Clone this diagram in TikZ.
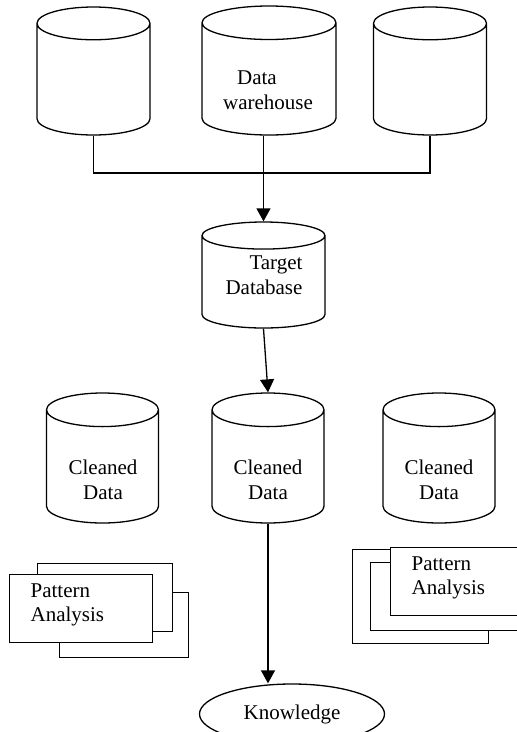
\documentclass[tikz,border=0pt]{standalone}
\usepackage{fontspec}
\setmainfont{Liberation Serif}
\usetikzlibrary{shapes.geometric,arrows.meta}
\tikzset{
  db/.style={cylinder, shape border rotate=90, draw, fill=white, anchor=shape center,
    minimum width=#1, inner xsep=0.5*#1, inner ysep=0pt},
  lbl/.style={font=\fontsize{21}{24.5}\selectfont, inner sep=0pt},
  sheet/.style={draw, fill=white, anchor=north west, inner sep=0pt},
  arr/.style={-{Triangle[width=14pt,length=13pt]}},
}
\begin{document}
\begin{tikzpicture}[x=1pt, y=-1pt, line width=1.3pt]
            \clip (0,0) rectangle (517,732);

            \node[db=113pt, aspect=0.29, minimum height=128pt] (dwL) at (93.5,71) {};
            \node[db=134pt, aspect=0.25, minimum height=129pt] (dw) at (269,70.5) {};
            \node[db=113pt, aspect=0.29, minimum height=128pt] (dwR) at (430,71) {};
            \node[lbl, align=left] (dwtxt) at (268,90) {\hspace*{14pt}Data\\warehouse};

            \node[db=123pt, aspect=0.22, minimum height=106pt] (target) at (263.5,275) {};
            \node[lbl, align=right] (targettxt) at (264,275) {Target\\Database};

            \node[db=112pt, aspect=0.3, minimum height=130pt] (cleanL) at (102.5,458) {};
            \node[db=112pt, aspect=0.3, minimum height=130pt] (cleanM) at (268,458) {};
            \node[db=112pt, aspect=0.3, minimum height=130pt] (cleanR) at (439,458) {};
            \node[lbl, align=center] (cleanLtxt) at (103,480) {Cleaned\\Data};
            \node[lbl, align=center] (cleanMtxt) at (268,480) {Cleaned\\Data};
            \node[lbl, align=center] (cleanRtxt) at (439,480) {Cleaned\\Data};

            \node[sheet, minimum width=129pt, minimum height=65pt] (patLc) at (59,592) {};
            \node[sheet, minimum width=135pt, minimum height=68pt] (patLb) at (37,563) {};
            \node[sheet, minimum width=143pt, minimum height=68pt] (patLa) at (9,574) {};
            \node[lbl, align=left, anchor=west] (patLtxt) at (30,605) {Pattern\\Analysis};

            \node[sheet, minimum width=136pt, minimum height=94pt] (patRc) at (352,549) {};
            \node[sheet, minimum width=160pt, minimum height=68pt] (patRb) at (370,562) {};
            \node[sheet, minimum width=140pt, minimum height=68pt] (patRa) at (390,547) {};
            \node[lbl, align=left, anchor=west] (patRtxt) at (411,578) {Pattern\\Analysis};

            \node[ellipse, draw, minimum width=185pt, minimum height=60pt, lbl] (know) at (292,714) {Knowledge};

            \coordinate (joint) at (263.5,173);
            \draw (dwL.south) |- (joint) -| (dwR.south);
            \draw[arr] (dw.south -| target.north) -- (target.north);
            \draw[arr] (target.south) -- (cleanM.north);
            \draw[arr] (cleanM.south) -- (cleanM.south |- know.north);
        \end{tikzpicture}
\end{document}
